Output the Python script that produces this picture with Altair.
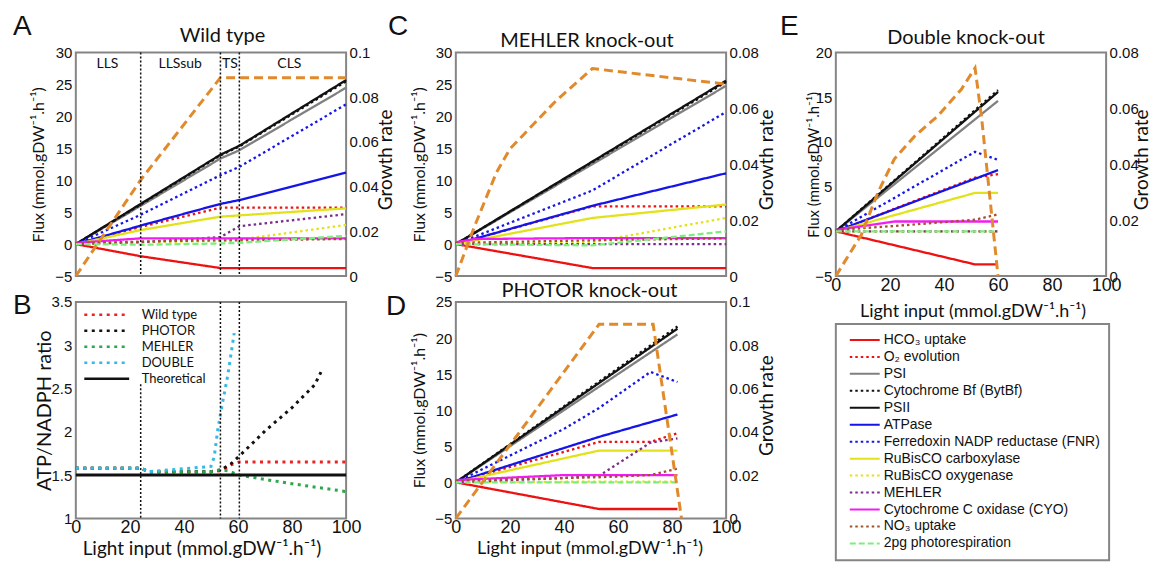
import altair as alt
import pandas as pd

N = None

# ---------------- series (legend order) ----------------
SERIES = ["HCO₃ uptake", "O₂ evolution", "PSI", "Cytochrome Bf (BytBf)", "PSII",
          "ATPase", "Ferredoxin NADP reductase (FNR)", "RuBisCO carboxylase",
          "RuBisCO oxygenase", "MEHLER", "Cytochrome C oxidase (CYO)", "NO₃ uptake",
          "2pg photorespiration"]

# ---------------- Panel A: wild type ----------------
A_X = [0, 24, 53.5, 60.5, 100]
A_HCO3 = [0, -1.9, -3.75, -3.75, -3.75]
A_O2 = [0, 2.7, 5.7, 5.7, 5.7]
A_PSI = [0, 6.0, 13.4, 14.7, 24.5]
A_CYTBF = [0, 6.2, 13.9, 15.3, 25.5]
A_PSII = [0, 6.3, 14.0, 15.4, 25.7]
A_ATPASE = [0, 2.9, 6.3, 6.9, 11.2]
A_FNR = [0, 4.6, 10.8, 12.1, 21.9]
A_RUBC = [0, 2.2, 4.3, 4.5, 5.6]
A_RUBO = [0, 0.3, 0.5, 0.7, 3.0]
A_MEHLER = [0, 0.3, 1.1, 2.8, 4.7]
A_CYO = [0.2, 0.9, 0.9, 0.9, 0.9]
A_NO3 = [0.1, 0.4, 0.6, 0.6, 0.8]
A_2PG = [0, -0.1, 0.1, 0.2, 1.3]
A_GROWTH = [0, 0.043, 0.0888, 0.0888, 0.0888]
A_SPLITS = [24, 53.5, 60.5]
A_REGION_X = [11.7, 38.6, 57, 79]
A_REGION = ["LLS", "LLSsub", "TS", "CLS"]

# ---------------- Panel C: MEHLER knock-out ----------------
C_X = [0, 7, 15, 20, 27, 37, 50.5, 100]
C_HCO3 = [0, N, N, N, N, N, -3.75, -3.75]
C_O2 = [0, N, N, N, N, N, 5.9, 5.9]
C_PSI = [0, N, N, N, N, N, N, 24.8]
C_CYTBF = [0, N, N, N, N, N, N, 25.4]
C_PSII = [0, N, N, N, N, N, N, 25.6]
C_ATPASE = [0, N, N, N, N, N, 6.0, 11.1]
C_FNR = [0, N, N, N, N, N, 8.4, 20.7]
C_RUBC = [0, N, N, N, N, N, 4.1, 6.2]
C_RUBO = [0, N, N, N, N, N, 0.3, 4.1]
C_MEHLER = [0, N, N, N, N, N, 0, 0]
C_CYO = [0.3, 0.8, N, N, N, N, 0.95, 0.95]
C_NO3 = [0.2, N, N, N, N, N, 0.6, 0.9]
C_2PG = [0, N, N, N, N, N, -0.2, 2.0]
C_GROWTH = [0, 0.018, 0.037, 0.0455, 0.0526, 0.0627, 0.0743, 0.0687]

# ---------------- Panel D: PHOTOR knock-out ----------------
D_X = [0, 40, 53, 72, 73, 82, 83.5]
D_HCO3 = [0, N, -3.7, N, N, -3.7, N]
D_O2 = [0, N, 5.6, 5.6, N, 6.8, N]
D_PSI = [0, N, N, N, N, 20.5, N]
D_CYTBF = [0, N, N, N, N, 21.6, N]
D_PSII = [0, N, N, N, N, 21.3, N]
D_ATPASE = [0, N, 6.3, N, N, 9.4, N]
D_FNR = [0, 7.4, 10.3, 15.3, N, 13.9, N]
D_RUBC = [0, N, 4.4, N, N, 4.4, N]
D_RUBO = [0, N, 0.1, N, N, 0.1, N]
D_MEHLER = [0, 0.6, 0.9, 5.5, N, 6.1, N]
D_CYO = [0.3, 1.0, N, N, N, 1.0, N]
D_NO3 = [0.2, 0.6, 0.7, 1.0, N, 1.9, N]
D_2PG = [0, N, 0, N, N, 0, N]
D_GROWTH = [0, N, 0.0897, N, 0.0897, N, 0]

# ---------------- Panel E: double knock-out ----------------
E_X = [0, 9.4, 15.6, 21.7, 29.1, 37.8, 46.4, 51.5, 53.9, 60]
E_HCO3 = [0, N, N, N, N, N, N, -3.7, N, -3.7]
E_O2 = [0, N, N, N, N, N, N, 6.0, N, 6.4]
E_PSI = [0, N, N, N, N, N, N, N, N, 14.6]
E_CYTBF = [0, N, N, N, N, N, N, N, N, 15.8]
E_PSII = [0, N, N, N, N, N, N, N, N, 15.6]
E_ATPASE = [0, N, N, N, N, N, N, N, N, 6.85]
E_FNR = [0, N, N, N, N, N, N, 8.9, N, 8.0]
E_RUBC = [0, N, N, N, N, N, N, 4.3, N, 4.3]
E_RUBO = [0, N, N, N, N, N, N, 0, N, 0]
E_MEHLER = [0, N, N, N, N, N, N, 0, N, 0]
E_CYO = [0.15, N, N, 1.1, N, N, N, 1.1, N, 1.1]
E_NO3 = [0.15, N, N, 0.6, N, N, N, 1.3, N, 1.9]
E_2PG = [0, N, N, N, N, N, N, 0, N, 0]
E_GROWTH = [0, 0.0147, 0.030, 0.042, 0.050, 0.0574, 0.0668, 0.0745, 0.057, 0]

# ---------------- Panel B: ATP/NADPH ratio ----------------
B_NAMES = ["Wild type", "PHOTOR", "MEHLER", "DOUBLE", "Theoretical"]
B_X = [0, 24, 27, 50, 51.2, 52.5, 53.7, 56.2, 57.4, 58.6, 60.5, 70, 80, 88.3, 90.7, 100]
B_WILD = [1.58, 1.58, 1.54, 1.54, N, N, 1.55, N, 1.62, N, 1.65, N, N, N, N, 1.65]
B_PHOTOR = [1.58, 1.58, 1.54, 1.54, N, N, 1.56, N, 1.63, N, 1.72, 2.01, 2.28, 2.54, 2.69, N]
B_MEHLER = [1.58, 1.58, 1.54, 1.54, N, N, 1.56, 1.55, N, N, 1.50, 1.45, 1.40, N, N, 1.31]
B_DOUBLE = [1.58, 1.58, 1.54, 1.60, 1.71, 2.02, 2.24, 2.65, N, 3.14, N, N, N, N, N, N]
B_THEORY = [1.5, N, N, N, N, N, N, N, N, N, N, N, N, N, N, 1.5]
B_VX = [24, 53.5, 60.5]
B_VTOP = [2.55, 3.5, 3.5]
B_VBOT = [1, 1, 1]

# ---------------- styles ----------------
SOLID = [1, 0]
DOT = [2.5, 3]
DASH = [6, 3]
COLORS = ["#ee1111", "#ee1111", "#808080", "#111111", "#111111", "#1515e8", "#1515e8",
          "#e2e21a", "#e2e21a", "#7a2e8c", "#f01cf0", "#a0522d", "#7ded7d"]
DASHES = [SOLID, DOT, SOLID, DOT, SOLID, SOLID, DOT, SOLID, DOT, DOT, SOLID, DOT, DASH]
B_COLORS = ["#ee2222", "#111111", "#2aa84a", "#33b8e8", "#111111"]
B_DASHES = [[3, 4.5], [3, 4.5], [3, 4.5], [3, 4.5], SOLID]
ORANGE = "#e08a2c"

W = 271
H1 = 224
H2 = 217
X_TICKS = [0, 20, 40, 60, 80, 100]
X_TITLE = "Light input (mmol.gDW⁻¹.h⁻¹)"
FLUX_TITLE = "Flux (mmol.gDW⁻¹.h⁻¹)"

AX = dict(labelFont="Liberation Sans", labelColor="#111111", ticks=False, tickSize=0,
          domain=False, grid=False, labelOverlap=False, labelFlush=False,
          titleFont="Lato", titleFontWeight="normal", titleColor="#111111",
          titleAlign="center", titleBaseline="middle")


def series_table(xs, rows, names, key):
    recs = []
    for name, vals in zip(names, rows):
        for x, v in zip(xs, vals):
            if v is not None:
                recs.append({"x": x, "y": v, key: name})
    return pd.DataFrame(recs)


def label_text(txt, dx, dy, size, font, align="left"):
    return alt.Chart(pd.DataFrame({"t": [txt]})).mark_text(
        align=align, baseline="middle", font=font, fontSize=size, color="#111111"
    ).encode(text="t:N", x=alt.value(dx), y=alt.value(dy))


def x_enc(show, tx=None, ty=None, ts=18, pad=1):
    axis = None
    if show:
        axis = alt.Axis(values=X_TICKS, labelFontSize=18, labelPadding=pad, title=X_TITLE,
                        titleFontSize=ts, titleX=tx, titleY=ty, titleAngle=0, **AX)
    return alt.X("x:Q", scale=alt.Scale(domain=[0, 100], nice=False, zero=False), axis=axis)


def flux_panel(xs, rows, gv, ydom, yvals, gdom, gvals, height, xenc, letter, title,
               lx, ly, tx, ty, ltx, lts, rtx, legend=None, extra=None):
    df = series_table(xs, rows, SERIES, "series")
    gdf = pd.DataFrame({"x": [x for x, v in zip(xs, gv) if v is not None],
                        "g": [v for v in gv if v is not None]})
    left = alt.Axis(values=yvals, format="~g", labelFontSize=15, labelPadding=4, title=FLUX_TITLE,
                    titleFontSize=lts, titleX=ltx, titleY=height / 2, titleAngle=270, **AX)
    right = alt.Axis(orient="right", values=gvals, format="~g", labelFontSize=15, labelPadding=3,
                     title="Growth rate", titleFontSize=19, titleX=rtx, titleY=height / 2 - 5,
                     titleAngle=270, **AX)
    lines = alt.Chart(df).mark_line(strokeWidth=2.3).encode(
        x=xenc,
        y=alt.Y("y:Q", scale=alt.Scale(domain=ydom, nice=False, zero=False), axis=left),
        color=alt.Color("series:N", scale=alt.Scale(domain=SERIES, range=COLORS), legend=legend),
        strokeDash=alt.StrokeDash("series:N", scale=alt.Scale(domain=SERIES, range=DASHES),
                                  legend=legend),
    )
    growth = alt.Chart(gdf).mark_line(color=ORANGE, strokeWidth=3, strokeDash=[9, 5]).encode(
        x=xenc,
        y=alt.Y("g:Q", scale=alt.Scale(domain=gdom, nice=False, zero=False), axis=right),
    )
    layers = [lines, growth] + (extra or []) + [
        label_text(letter, lx, ly, 28, "Liberation Sans"),
        label_text(title, tx, ty, 20, "Lato", "center"),
    ]
    return alt.layer(*layers).resolve_scale(y="independent").properties(width=W, height=height)


# ---- A ----
xa = x_enc(False)
a_rules = alt.Chart(pd.DataFrame({"x": A_SPLITS})).mark_rule(
    color="#111111", strokeWidth=1.5, strokeDash=[2, 2]).encode(x=xa)
a_regions = alt.Chart(pd.DataFrame({"x": A_REGION_X, "t": A_REGION})).mark_text(
    font="Lato", fontSize=14, color="#111111", baseline="middle").encode(
    x=xa, y=alt.value(11), text="t:N")
A = flux_panel(A_X, [A_HCO3, A_O2, A_PSI, A_CYTBF, A_PSII, A_ATPASE, A_FNR, A_RUBC, A_RUBO,
                     A_MEHLER, A_CYO, A_NO3, A_2PG], A_GROWTH,
               [-5, 30], [-5, 0, 5, 10, 15, 20, 25, 30], [0, 0.1], [0, 0.02, 0.04, 0.06, 0.08, 0.1],
               H1, xa, "A", "Wild type", -63, -26, 147, -16.5, -37.5, 16, 40,
               extra=[a_rules, a_regions])

# ---- C ----
C = flux_panel(C_X, [C_HCO3, C_O2, C_PSI, C_CYTBF, C_PSII, C_ATPASE, C_FNR, C_RUBC, C_RUBO,
                     C_MEHLER, C_CYO, C_NO3, C_2PG], C_GROWTH,
               [-5, 30], [-5, 0, 5, 10, 15, 20, 25, 30], [0, 0.08], [0, 0.02, 0.04, 0.06, 0.08],
               H1, x_enc(False), "C", "MEHLER knock-out", -68, -26, 131.5, -11.5, -36, 16, 41)

# ---- D ----
D = flux_panel(D_X, [D_HCO3, D_O2, D_PSI, D_CYTBF, D_PSII, D_ATPASE, D_FNR, D_RUBC, D_RUBO,
                     D_MEHLER, D_CYO, D_NO3, D_2PG], D_GROWTH,
               [-5, 25], [-5, 0, 5, 10, 15, 20, 25], [0, 0.1], [0, 0.02, 0.04, 0.06, 0.08, 0.1],
               H2, x_enc(True, 134, 30, 18, 0), "D", "PHOTOR knock-out", -70, 5, 134, -11, -36, 16, 41)

# ---- E (with legend) ----
E_LEGEND = alt.Legend(title=None, orient="none", legendX=0, legendY=272, padding=8,
                      symbolOffset=5, symbolSize=900, symbolStrokeWidth=2, symbolType="stroke",
                      labelFont="Liberation Sans", labelFontSize=14, labelColor="#111111",
                      labelLimit=0, labelOffset=3, rowPadding=0, clipHeight=16.2,
                      strokeColor="#858585", fillColor="white")
E = flux_panel(E_X, [E_HCO3, E_O2, E_PSI, E_CYTBF, E_PSII, E_ATPASE, E_FNR, E_RUBC, E_RUBO,
                     E_MEHLER, E_CYO, E_NO3, E_2PG], E_GROWTH,
               [-5, 20], [-5, 0, 5, 10, 15, 20], [0, 0.08], [0, 0.02, 0.04, 0.06, 0.08],
               H1, x_enc(True, 137, 36, 18), "E", "Double knock-out", -56, -26, 130.5, -14.5,
               -22, 15, 35, legend=E_LEGEND)

# ---- B ----
b_df = series_table(B_X, [B_WILD, B_PHOTOR, B_MEHLER, B_DOUBLE, B_THEORY], B_NAMES, "bseries")
xb = x_enc(True, 126, 30, 19, 0)
b_yaxis = alt.Axis(values=[1, 1.5, 2, 2.5, 3, 3.5], format="~g", labelFontSize=15, labelPadding=4,
                   title="ATP/NADPH ratio", titleFontSize=20, titleX=-31, titleY=H2 / 2,
                   titleAngle=270, **AX)
b_yscale = alt.Scale(domain=[1, 3.5], nice=False, zero=False)
B_LEGEND = alt.Legend(title=None, orient="none", legendX=7, legendY=5, padding=0,
                      symbolSize=2025, symbolStrokeWidth=2.5, symbolType="stroke",
                      labelFont="Lato", labelFontSize=13, labelColor="#111111", labelOffset=11,
                      rowPadding=0, clipHeight=15.75, labelLimit=0)
b_lines = alt.Chart(b_df).mark_line(strokeWidth=3).encode(
    x=xb,
    y=alt.Y("y:Q", scale=b_yscale, axis=b_yaxis),
    color=alt.Color("bseries:N", scale=alt.Scale(domain=B_NAMES, range=B_COLORS), legend=B_LEGEND),
    strokeDash=alt.StrokeDash("bseries:N", scale=alt.Scale(domain=B_NAMES, range=B_DASHES),
                              legend=B_LEGEND),
)
b_rules = alt.Chart(pd.DataFrame({"x": B_VX, "y": B_VTOP, "y2": B_VBOT})).mark_rule(
    color="#111111", strokeWidth=1.5, strokeDash=[2, 2]).encode(
    x=xb, y=alt.Y("y:Q", scale=b_yscale, axis=b_yaxis), y2="y2:Q")
B = alt.layer(b_lines, b_rules, label_text("B", -63, 4, 28, "Liberation Sans")).properties(
    width=W, height=H2)

chart = alt.concat(
    A, C, E, B, D, columns=3, spacing={"row": 26, "column": 110}, bounds="flush", align="each"
).resolve_scale(
    color="independent", strokeDash="independent"
).properties(
    padding={"left": 4, "top": 3, "right": 0, "bottom": 0}
).configure_view(
    stroke="#858585", strokeWidth=2
).configure_legend(
    strokeWidth=2
)

chart.save("out.html", embed_options={"renderer": "svg", "actions": False})
